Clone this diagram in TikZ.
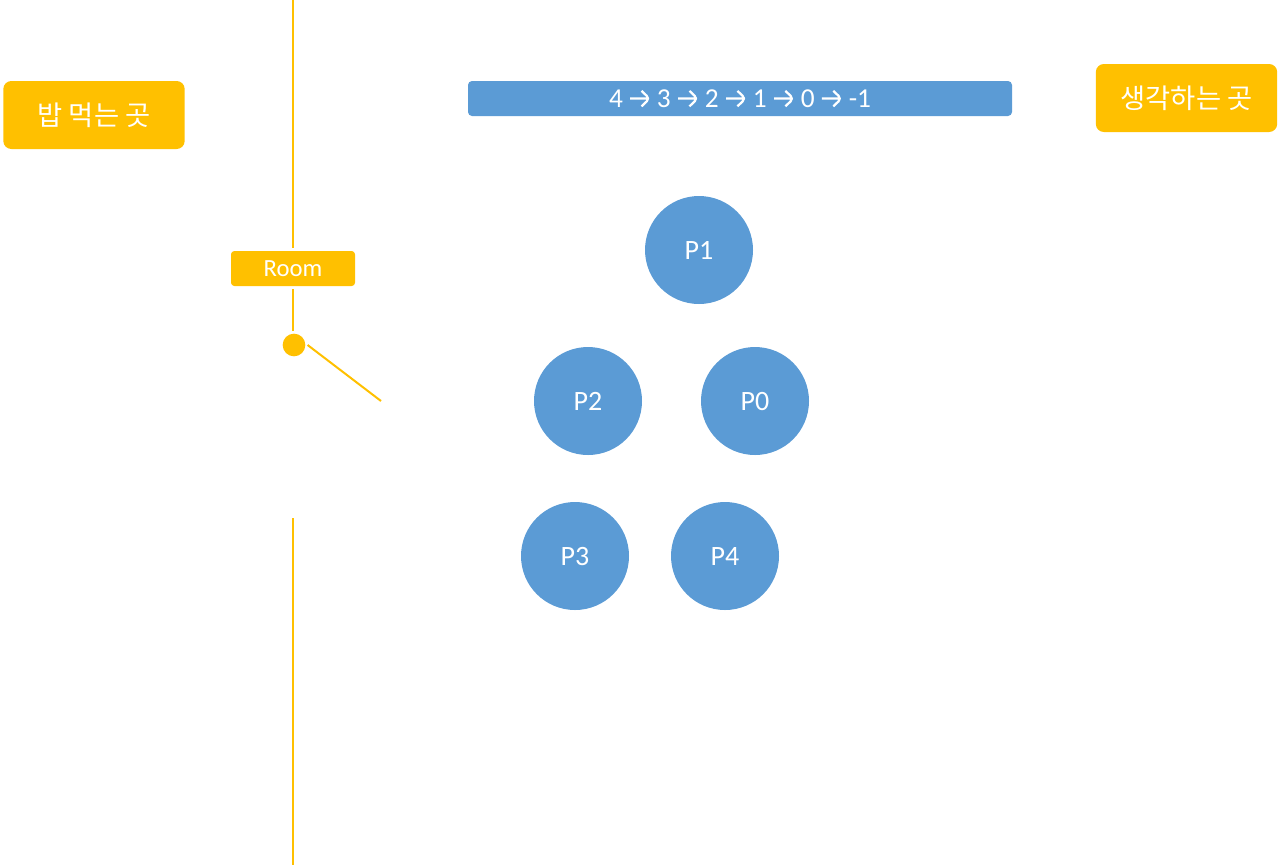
\documentclass[tikz,border=0pt]{standalone}
\usepackage{fontspec}
\setmainfont{Carlito}
\newfontfamily\kor{Noto Sans CJK KR}
\definecolor{ygold}{HTML}{FFC000}
\definecolor{pblue}{HTML}{5B9BD5}
\newcommand{\qarrow}{\tikz[baseline={(0pt,-6.5pt)}]\draw[white,line width=1.7pt,line join=miter] (0pt,0pt) -- (14pt,0pt) (8.5pt,5.8pt) -- (14.6pt,0pt) -- (8.5pt,-5.8pt);}
\begin{document}
\begin{tikzpicture}[x=0.75pt,y=-0.75pt,
  placebox/.style={fill=ygold,rounded corners=6pt,text=white,font=\kor\fontsize{20.5}{24}\selectfont,minimum width=136pt,minimum height=51pt,inner sep=0pt},
  roombox/.style={fill=ygold,rounded corners=2.5pt,text=white,font=\fontsize{18.5}{20}\selectfont,minimum width=93pt,minimum height=26.25pt,inner sep=0pt},
  queuebar/.style={fill=pblue,rounded corners=3pt,text=white,font=\fontsize{20.5}{20}\selectfont,minimum width=408pt,minimum height=26.25pt,inner sep=0pt},
  phil/.style={circle,fill=pblue,text=white,font=\fontsize{21}{24}\selectfont,minimum size=81pt,inner sep=0pt},
  wall/.style={draw=ygold,line width=1.5pt},
  hingedot/.style={circle,fill=ygold,minimum size=17pt,inner sep=0pt}]
\useasboundingbox (0,0) rectangle (1280,865);
\node[placebox] (eat) at (94,115) {밥 먹는 곳};
\node[placebox] (think) at (1186.5,98) {생각하는 곳};
\node[queuebar] (queue) at (740,98.5) {4 \qarrow{} 3 \qarrow{} 2 \qarrow{} 1 \qarrow{} 0 \qarrow{} -1};
\node[roombox] (room) at (293,268.5) {Room};
\node[hingedot] (hinge) at (294,345) {};
\coordinate (wtop) at (293,0);
\coordinate (wtopend) at (293,248);
\coordinate (wroom) at (293,289);
\coordinate (whinge) at (293,331);
\coordinate (doorend) at (381,401);
\coordinate (wlow) at (293,518);
\coordinate (wbot) at (293,865);
\draw[wall] (wtop) -- (wtopend);
\draw[wall] (wroom) -- (whinge);
\draw[wall] ([xshift=1.5pt]hinge.east) -- (doorend);
\draw[wall] (wlow) -- (wbot);
\node[phil] (p1) at (699,250) {P1};
\node[phil] (p2) at (588,401) {P2};
\node[phil] (p0) at (755,401) {P0};
\node[phil] (p3) at (575,556) {P3};
\node[phil] (p4) at (725,556) {P4};
\end{tikzpicture}
\end{document}
